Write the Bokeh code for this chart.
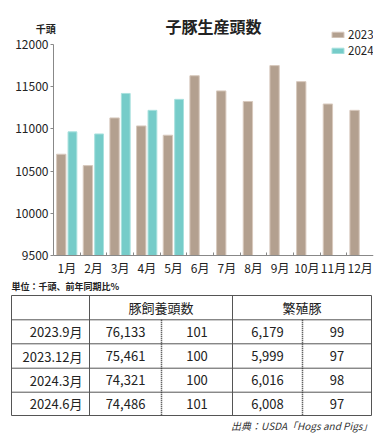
from bokeh.plotting import figure
from bokeh.models import Range1d, FixedTicker, Legend, LegendItem, Label, ColumnDataSource
from bokeh.transform import dodge
from bokeh.layouts import column
from bokeh.embed import file_html
from bokeh.resources import INLINE
from bokeh.core.properties import value

# ---------------- data ----------------
months = ["1月", "2月", "3月", "4月", "5月", "6月", "7月", "8月", "9月", "10月", "11月", "12月"]
pigs_2023 = [10700, 10565, 11130, 11035, 10925, 11630, 11450, 11325, 11750, 11560, 11295, 11220]
pigs_2024 = [10965, 10940, 11420, 11220, 11350]
y_ticks = [9500, 10000, 10500, 11000, 11500, 12000]

table_rows = ["2023.9月", "2023.12月", "2024.3月", "2024.6月"]
inventory = ["76,133", "75,461", "74,321", "74,486"]
inventory_pct = ["101", "100", "100", "101"]
breeding = ["6,179", "5,999", "6,016", "6,008"]
breeding_pct = ["99", "97", "98", "97"]
headers = ["豚飼養頭数", "繁殖豚"]

FONT = "Noto Sans CJK JP"
C23 = "#b3a08f"
C23_LINE = "#d8c9bd"
C24 = "#76ccc9"
C24_LINE = "#a9e1de"
TXT = "#222222"

# ---------------- chart ----------------
# frame spans page x 10..373 (363 px); categories 0.5..12.5 span 53..373
# frame spans page y 0..280; 9500 at y=255, 12000 at y=44
p = figure(width=382, height=280, x_range=Range1d(-1.1125, 12.5), y_range=Range1d(9203.8, 12521.3),
           output_backend="svg", toolbar_location=None,
           min_border_left=10, min_border_right=9, min_border_top=0, min_border_bottom=0)
p.outline_line_color = None
p.grid.visible = False
p.background_fill_color = "white"
try:
    p.frame_align = False
except Exception:
    pass

pos = list(range(1, len(months) + 1))
src23 = ColumnDataSource(dict(x=pos, top=pigs_2023))
src24 = ColumnDataSource(dict(x=pos[:len(pigs_2024)], top=pigs_2024))

r23 = p.vbar(x=dodge("x", -0.21), top="top", bottom=y_ticks[0], width=0.35, source=src23,
             fill_color=C23, line_color=C23_LINE, line_width=1)
r24 = p.vbar(x=dodge("x", 0.21), top="top", bottom=y_ticks[0], width=0.33, source=src24,
             fill_color=C24, line_color=C24_LINE, line_width=1)

xa = p.xaxis[0]
xa.fixed_location = y_ticks[0]
xa.ticker = FixedTicker(ticks=pos, minor_ticks=[i + 0.5 for i in pos[:-1]])
xa.bounds = (0.5, 12.5)
xa.major_label_overrides = {i: m for i, m in zip(pos, months)}
xa.major_tick_out = 0
xa.major_tick_in = 0
xa.minor_tick_in = 3
xa.minor_tick_out = 0
xa.major_label_standoff = 3
xa.major_label_text_font = FONT
xa.major_label_text_font_size = "12px"
xa.major_label_text_color = TXT
xa.axis_line_color = "#888888"
xa.minor_tick_line_color = "#888888"

ya = p.yaxis[0]
ya.fixed_location = 0.5
ya.ticker = FixedTicker(ticks=y_ticks)
ya.bounds = (y_ticks[0], y_ticks[-1])
ya.major_tick_out = 3
ya.major_tick_in = 0
ya.minor_tick_out = 0
ya.minor_tick_in = 0
ya.major_label_standoff = 2
ya.major_label_text_font = FONT
ya.major_label_text_font_size = "12px"
ya.major_label_text_color = TXT
ya.axis_line_color = "#888888"
ya.major_tick_line_color = "#888888"

legend = Legend(items=[LegendItem(label="2023", renderers=[r23]),
                       LegendItem(label="2024", renderers=[r24])],
                location=(320, 222), padding=0, margin=0, spacing=-3,
                glyph_width=15, glyph_height=7, label_height=10, label_standoff=3,
                label_text_font=FONT, label_text_font_size="11.5px", label_text_color=TXT,
                border_line_color=None, background_fill_alpha=0)
p.add_layout(legend)

p.add_layout(Label(x=6.5, y=12225, text="子豚生産頭数", text_align="center", text_baseline="middle",
                   text_font=FONT, text_font_size="16px", text_font_style="bold", text_color=TXT))
p.add_layout(Label(x=0.211, y=12195, text="千頭", text_align="center", text_baseline="middle",
                   text_font=FONT, text_font_size="10px", text_font_style="bold", text_color=TXT))

# ---------------- table ----------------
t = figure(width=382, height=155, x_range=Range1d(0, 382), y_range=Range1d(435, 280),
           output_backend="svg", toolbar_location=None, min_border=0,
           x_axis_location=None, y_axis_location=None)
t.outline_line_color = None
t.grid.visible = False
try:
    t.frame_align = False
except Exception:
    pass

col_edges = [11, 89, 161, 232, 302, 371]
row_edges = [295, 319.3, 343.3, 367.7, 391.7, 415]
LINE = "#555555"

t.segment(x0=[col_edges[0]] * len(row_edges), y0=row_edges,
          x1=[col_edges[-1]] * len(row_edges), y1=row_edges, line_color=LINE, line_width=1)
solid_x = [col_edges[0], col_edges[1], col_edges[3], col_edges[5]]
t.segment(x0=solid_x, y0=[row_edges[0]] * 4, x1=solid_x, y1=[row_edges[-1]] * 4,
          line_color=LINE, line_width=1)
dot_x = [col_edges[2], col_edges[4]]
t.segment(x0=dot_x, y0=[row_edges[1]] * 2, x1=dot_x, y1=[row_edges[-1]] * 2,
          line_color="#333333", line_width=1.5, line_dash="1 1")

row_c = [(row_edges[i] + row_edges[i + 1]) / 2 for i in range(1, len(row_edges) - 1)]
head_c = (row_edges[0] + row_edges[1]) / 2

t.text(x=[(col_edges[1] + col_edges[3]) / 2, (col_edges[3] + col_edges[5]) / 2],
       y=[head_c, head_c], text=headers, text_font=value(FONT), text_font_size="13px",
       text_align="center", text_baseline="middle", text_color=TXT)

t.text(x=[col_edges[1] - 7] * len(table_rows), y=row_c, text=table_rows, text_font=value(FONT),
       text_font_size="13px", text_align="right", text_baseline="middle", text_color=TXT)

for ci, col in enumerate([inventory, inventory_pct, breeding, breeding_pct]):
    cx = (col_edges[ci + 1] + col_edges[ci + 2]) / 2
    t.text(x=[cx] * len(col), y=row_c, text=col, text_font=value(FONT), text_font_size="13px",
           text_align="center", text_baseline="middle", text_color=TXT)

t.text(x=[11], y=[286], text=["単位：千頭、前年同期比%"], text_font=value(FONT),
       text_font_size="9px", text_font_style="bold", text_align="left", text_baseline="middle",
       text_color=TXT)
t.text(x=[372], y=[425], text=["出典：USDA「Hogs and Pigs」"], text_font=value(FONT),
       text_font_size="10px", text_font_style="italic", text_align="right", text_baseline="middle",
       text_color="#333333")

layout = column(p, t)
open("out.html", "w").write(file_html(layout, INLINE))
